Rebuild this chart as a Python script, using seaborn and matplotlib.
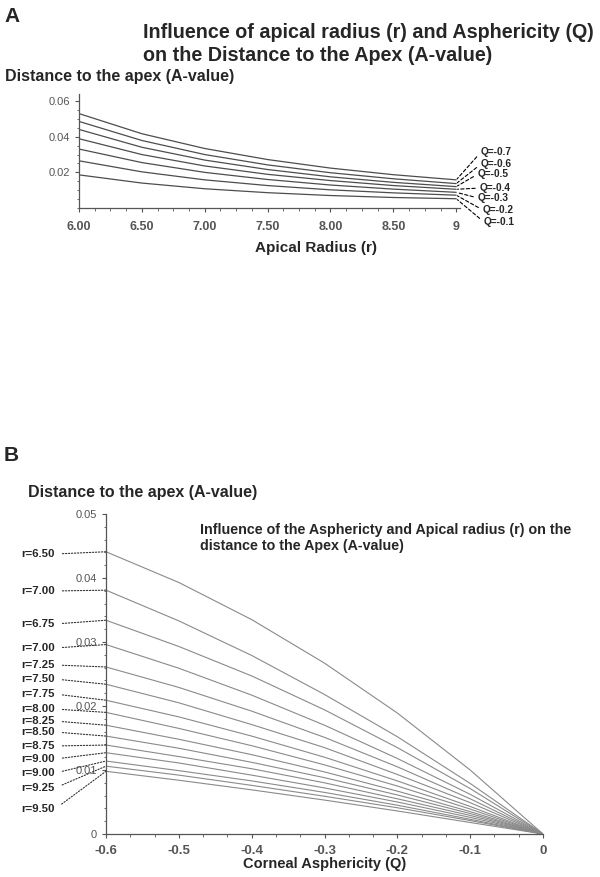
import numpy as np
import pandas as pd
import matplotlib
matplotlib.use("Agg")
import matplotlib.pyplot as plt
import seaborn as sns
from matplotlib.ticker import AutoMinorLocator

# Panel A: A-value against apical radius, one curve per asphericity
radius_points = [6.0, 6.5, 7.0, 7.5, 8.0, 8.5, 9.0]
a_q07 = [0.0530, 0.0417, 0.0334, 0.0272, 0.0224, 0.0187, 0.0158]
a_q06 = [0.0486, 0.0379, 0.0300, 0.0242, 0.0198, 0.0164, 0.0137]
a_q05 = [0.0441, 0.0341, 0.0269, 0.0216, 0.0175, 0.0144, 0.0120]
a_q04 = [0.0389, 0.0300, 0.0236, 0.0189, 0.0154, 0.0126, 0.0105]
a_q03 = [0.0331, 0.0255, 0.0200, 0.0160, 0.0129, 0.0106, 0.0088]
a_q02 = [0.0265, 0.0203, 0.0158, 0.0126, 0.0102, 0.0085, 0.0072]
a_q01 = [0.0186, 0.0140, 0.0108, 0.0086, 0.0070, 0.0059, 0.0052]
q_names = ["Q=-0.7", "Q=-0.6", "Q=-0.5", "Q=-0.4", "Q=-0.3", "Q=-0.2", "Q=-0.1"]
radius_ticks = [6.0, 6.5, 7.0, 7.5, 8.0, 8.5, 9.0]
radius_ticklabels = ["6.00", "6.50", "7.00", "7.50", "8.00", "8.50", "9"]

# Panel B: A-value against asphericity, one curve per apical radius
q_points = [-0.6, -0.5, -0.4, -0.3, -0.2, -0.1, 0.0]
r_names = ["r=6.50", "r=7.00", "r=6.75", "r=7.00", "r=7.25", "r=7.50", "r=7.75",
           "r=8.00", "r=8.25", "r=8.50", "r=8.75", "r=9.00", "r=9.00", "r=9.25", "r=9.50"]
b_curves = [
    [0.0441, 0.0393, 0.0335, 0.0267, 0.0189, 0.0100, 0.0],
    [0.0381, 0.0333, 0.0279, 0.0218, 0.0152, 0.0079, 0.0],
    [0.0334, 0.0293, 0.0247, 0.0194, 0.0135, 0.0071, 0.0],
    [0.0296, 0.0259, 0.0217, 0.0170, 0.0118, 0.0062, 0.0],
    [0.0261, 0.0229, 0.0192, 0.0151, 0.0105, 0.0055, 0.0],
    [0.0234, 0.0205, 0.0171, 0.0135, 0.0093, 0.0049, 0.0],
    [0.0209, 0.0183, 0.0153, 0.0120, 0.0083, 0.0043, 0.0],
    [0.0190, 0.0165, 0.0138, 0.0108, 0.0075, 0.0039, 0.0],
    [0.0170, 0.0148, 0.0124, 0.0097, 0.0067, 0.0035, 0.0],
    [0.0153, 0.0134, 0.0112, 0.0088, 0.0061, 0.0032, 0.0],
    [0.0139, 0.0121, 0.0102, 0.0080, 0.0055, 0.0029, 0.0],
    [0.0127, 0.0111, 0.0092, 0.0072, 0.0050, 0.0026, 0.0],
    [0.0114, 0.0099, 0.0083, 0.0065, 0.0045, 0.0023, 0.0],
    [0.0106, 0.0092, 0.0076, 0.0059, 0.0041, 0.0021, 0.0],
    [0.0098, 0.0084, 0.0069, 0.0053, 0.0036, 0.0018, 0.0],
]
q_ticks = [-0.6, -0.5, -0.4, -0.3, -0.2, -0.1, 0.0]
q_ticklabels = ["-0.6", "-0.5", "-0.4", "-0.3", "-0.2", "-0.1", "0"]

sns.set_style("ticks")
plt.rcParams["font.family"] = ["Liberation Sans", "DejaVu Sans"]

# long-form tables for seaborn
a_series = [a_q07, a_q06, a_q05, a_q04, a_q03, a_q02, a_q01]
df_a = pd.DataFrame([(r, v, name) for name, vals in zip(q_names, a_series)
                     for r, v in zip(radius_points, vals)], columns=["r", "A", "Q"])
df_b = pd.DataFrame([(q, v, i) for i, vals in enumerate(b_curves)
                     for q, v in zip(q_points, vals)], columns=["Q", "A", "curve"])

fig = plt.figure(figsize=(6.0, 8.77), dpi=100)
W, H = 600, 877

def px_axes(left, top, right, bottom):
    return fig.add_axes([left / W, 1 - bottom / H, (right - left) / W, (bottom - top) / H])

def style_axes(ax):
    for side in ["top", "right"]:
        ax.spines[side].set_visible(False)
    for side in ["left", "bottom"]:
        ax.spines[side].set_color("#555555")
        ax.spines[side].set_linewidth(0.9)
    ax.tick_params(which="both", colors="#555555", direction="out")
    ax.tick_params(which="major", length=3, width=0.8)
    ax.tick_params(which="minor", length=1.8, width=0.6)
    ax.set_xlabel("")
    ax.set_ylabel("")

# ---------------- Panel A ----------------
axA = px_axes(79, 94, 460, 208)
sns.lineplot(data=df_a, x="r", y="A", units="Q", estimator=None, color="#4d4d4d",
             linewidth=0.9, ax=axA, legend=False)
axA.set_xlim(6.0, 9.03)
axA.set_ylim(0, 0.064)
axA.set_xticks(radius_ticks)
axA.set_xticklabels(radius_ticklabels, fontsize=9, fontweight="bold", color="black")
axA.set_yticks([0.02, 0.04, 0.06])
axA.set_yticklabels(["0.02", "0.04", "0.06"], fontsize=8, color="#333333")
axA.xaxis.set_minor_locator(AutoMinorLocator(4))
axA.yaxis.set_minor_locator(AutoMinorLocator(4))
style_axes(axA)
axA.tick_params(axis="x", which="major", pad=6)

q_label_pos = [(1.055, 0.49), (1.055, 0.385), (1.047, 0.298), (1.052, 0.175),
               (1.047, 0.088), (1.06, -0.018), (1.063, -0.123)]
for name, vals, (tx, ty) in zip(q_names, a_series, q_label_pos):
    axA.annotate(name, xy=(radius_points[-1], vals[-1]), xytext=(tx, ty),
                 textcoords="axes fraction", ha="left", va="center", fontsize=7.3,
                 fontweight="bold", annotation_clip=False,
                 arrowprops=dict(arrowstyle="-", linestyle=(0, (3, 2)), color="black",
                                 lw=0.8, relpos=(0, 0.5), shrinkA=1, shrinkB=1))

fig.text(4 / W, 1 - 16 / H, "A", fontsize=15, fontweight="bold", va="center", ha="left")
fig.text(143 / W, 1 - 44 / H,
         "Influence of apical radius (r) and Asphericity (Q)\non the Distance to the Apex (A-value)",
         fontsize=14.2, fontweight="bold", va="center", ha="left", linespacing=1.25)
fig.text(5 / W, 1 - 77 / H, "Distance to the apex (A-value)", fontsize=11.5,
         fontweight="bold", va="center", ha="left")
fig.text(316 / W, 1 - 248 / H, "Apical Radius (r)", fontsize=11, fontweight="bold",
         va="center", ha="center")

# ---------------- Panel B ----------------
axB = px_axes(106, 514, 543, 834)
sns.lineplot(data=df_b, x="Q", y="A", units="curve", estimator=None, color="#8a8a8a",
             linewidth=0.8, ax=axB, legend=False)
axB.set_xlim(-0.6, 0.0)
axB.set_ylim(0, 0.05)
axB.set_xticks(q_ticks)
axB.set_xticklabels(q_ticklabels, fontsize=9.5, fontweight="bold", color="black")
axB.set_yticks([0, 0.01, 0.02, 0.03, 0.04, 0.05])
axB.set_yticklabels(["0", "0.01", "0.02", "0.03", "0.04", "0.05"], fontsize=8,
                    color="#444444")
axB.xaxis.set_minor_locator(AutoMinorLocator(3))
axB.yaxis.set_minor_locator(AutoMinorLocator(5))
style_axes(axB)
axB.tick_params(axis="x", which="major", pad=5)

r_label_y = [554, 591, 624, 648, 665, 679, 694, 709, 721, 732, 746, 759, 773, 788, 809]
for name, vals, py in zip(r_names, b_curves, r_label_y):
    axB.annotate(name, xy=(q_points[0], vals[0]), xytext=(-51 / 437, (834 - py) / 320),
                 textcoords="axes fraction", ha="right", va="center", fontsize=8.2,
                 fontweight="bold", annotation_clip=False,
                 arrowprops=dict(arrowstyle="-", linestyle=(0, (1.2, 1.5)), color="#333333",
                                 lw=0.8, relpos=(1, 0.5), shrinkA=3, shrinkB=0))

fig.text(4 / W, 1 - 455 / H, "B", fontsize=15, fontweight="bold", va="center", ha="left")
fig.text(28 / W, 1 - 493 / H, "Distance to the apex (A-value)", fontsize=11.5,
         fontweight="bold", va="center", ha="left")
fig.text(200 / W, 1 - 538 / H,
         "Influence of the Asphericty and Apical radius (r) on the\ndistance to the Apex (A-value)",
         fontsize=10.3, fontweight="bold", va="center", ha="left", linespacing=1.17)
fig.text(325 / W, 1 - 864 / H, "Corneal Asphericity (Q)", fontsize=10.5, fontweight="bold",
         va="center", ha="center")

fig.savefig("out.png", dpi=100, facecolor="white")
